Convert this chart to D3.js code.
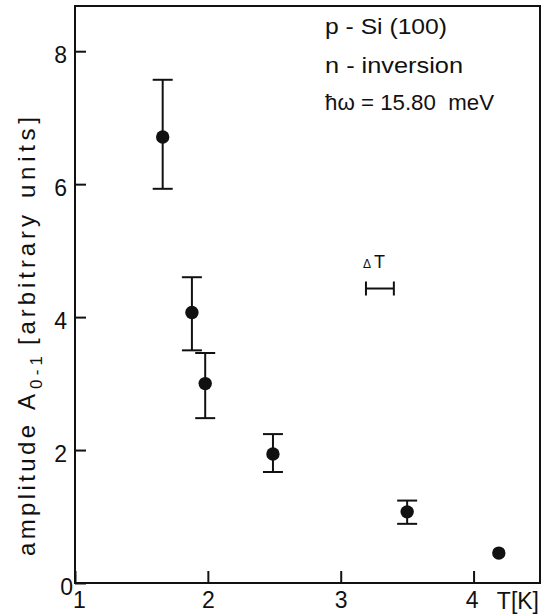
<!DOCTYPE html>
<html>
<head>
<meta charset="utf-8">
<script src="https://cdn.jsdelivr.net/npm/d3@7"></script>
<style>
  html, body { margin: 0; padding: 0; background: #fff; }
  svg { display: block; }
  text { font-family: "Liberation Sans", "DejaVu Sans", sans-serif; fill: #111; }
</style>
</head>
<body>
<svg id="chart" width="542" height="614"></svg>
<script>
// ---- data ----
const temperature = [1.66, 1.88, 1.98, 2.49, 3.50, 4.19];      // T [K]
const amplitude   = [6.71, 4.07, 3.00, 1.94, 1.07, 0.45];      // A0-1
const errUpper    = [7.57, 4.60, 3.46, 2.24, 1.24, null];
const errLower    = [5.93, 3.50, 2.48, 1.67, 0.89, null];
const xTicks = [1, 2, 3, 4];
const yTicks = [0, 2, 4, 6, 8];
const xTickLabels = ["1", "2", "3", "4"];
const yTickLabels = ["0", "2", "4", "6", "8"];
const annotationLines = ["p - Si (100)", "n - inversion", "\u0127\u03c9 = 15.80  meV"];
const deltaT = [3.19, 3.40];   // temperature resolution bar (K)
const deltaTAmp = [4.43];
const xTitle = "T[K]";
const yTitleParts = ["amplitude", "A", "0-1", "[arbitrary", "units]"];

// ---- scales ----
const svg = d3.select("#chart");
svg.append("rect").attr("width", 542).attr("height", 614).attr("fill", "#fff");
const x = d3.scaleLinear().domain([1, 4.5]).range([75, 540]);
const y = d3.scaleLinear().domain([0, 8.68]).range([583, 6]);

// frame
svg.append("rect")
  .attr("x", x(1)).attr("y", y(8.68))
  .attr("width", x(4.5) - x(1)).attr("height", y(0) - y(8.68))
  .attr("fill", "none").attr("stroke", "#111").attr("stroke-width", 2);

// x axis
const xAxis = d3.axisBottom(x).tickValues(xTicks)
  .tickFormat((d, i) => xTickLabels[i]).tickSizeInner(-12).tickSizeOuter(0).tickPadding(8.5);
const gx = svg.append("g").attr("transform", `translate(0,${y(0)})`).call(xAxis);
gx.select(".domain").remove();
gx.selectAll("line").attr("stroke", "#111").attr("stroke-width", 2);
gx.selectAll("text").attr("font-size", 23).attr("fill", "#111")
  .attr("dx", d => d === 1 ? 4 : (d === 4 ? -2 : 0));

// y axis
const yAxis = d3.axisLeft(y).tickValues(yTicks)
  .tickFormat((d, i) => yTickLabels[i]).tickSizeInner(-11).tickSizeOuter(0).tickPadding(8);
const gy = svg.append("g").attr("transform", `translate(${x(1)},0)`).call(yAxis);
gy.select(".domain").remove();
gy.selectAll("line").attr("stroke", "#111").attr("stroke-width", 2);
gy.selectAll("text").attr("font-size", 23).attr("fill", "#111")
  .attr("dy", "0.48em")
  .attr("x", d => d === 0 ? -2 : -8);

// x title
svg.append("text").attr("x", x(4.5) - 1).attr("y", 609)
  .attr("text-anchor", "end").attr("font-size", 23).text(xTitle);

// y title (rotated)
const yl = svg.append("g").attr("transform", "translate(35,0) rotate(-90)");
function piece(txt, yStart, yEnd, fs, shift) {
  yl.append("text").attr("x", -yStart).attr("y", shift || 0)
    .attr("font-size", fs)
    .attr("textLength", yStart - yEnd).attr("lengthAdjust", "spacing")
    .text(txt);
}
piece(yTitleParts[0], 556, 425, 24);
piece(yTitleParts[1], 410, 391, 24);
piece(yTitleParts[2], 389, 356, 17, 7);
piece(yTitleParts[3], 345, 215, 24);
piece(yTitleParts[4], 198, 117, 24);

// error bars
const pts = temperature.map((t, i) => ({t, a: amplitude[i], hi: errUpper[i], lo: errLower[i]}));
const eb = svg.append("g").attr("stroke", "#111").attr("stroke-width", 2);
pts.filter(d => d.hi != null).forEach(d => {
  eb.append("line").attr("x1", x(d.t)).attr("x2", x(d.t)).attr("y1", y(d.hi)).attr("y2", y(d.lo));
  [d.hi, d.lo].forEach(v => {
    eb.append("line").attr("x1", x(d.t) - 10).attr("x2", x(d.t) + 10)
      .attr("y1", y(v)).attr("y2", y(v));
  });
});
svg.append("g").selectAll("circle").data(pts).join("circle")
  .attr("cx", d => x(d.t)).attr("cy", d => y(d.a)).attr("r", 6.7).attr("fill", "#111");

// delta T resolution bar
const dg = svg.append("g").attr("stroke", "#111").attr("stroke-width", 2);
dg.append("line").attr("x1", x(deltaT[0])).attr("x2", x(deltaT[1]))
  .attr("y1", y(deltaTAmp[0])).attr("y2", y(deltaTAmp[0]));
deltaT.forEach(v => dg.append("line").attr("x1", x(v)).attr("x2", x(v))
  .attr("y1", y(deltaTAmp[0]) - 7).attr("y2", y(deltaTAmp[0]) + 7));
const dtx = svg.append("text").attr("x", x(deltaT[0]) - 3).attr("y", 268).attr("font-size", 18);
dtx.append("tspan").attr("font-size", 12).text("\u0394");
dtx.append("tspan").attr("dx", 3).text("T");

// annotation block
const ann = [{b: 34, w: 122}, {b: 73, w: 138}, {b: 110, w: 169}];
annotationLines.forEach((s, i) => {
  svg.append("text").attr("x", 325).attr("y", ann[i].b).attr("font-size", 22)
    .attr("textLength", ann[i].w).attr("lengthAdjust", "spacingAndGlyphs")
    .style("white-space", "pre").text(s);
});
</script>
</body>
</html>
